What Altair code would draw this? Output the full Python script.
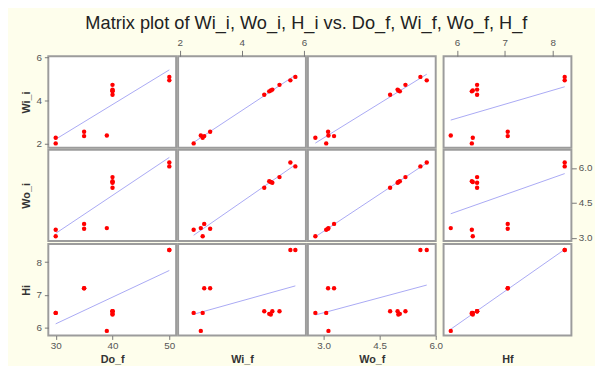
import altair as alt
import pandas as pd

do_f = [30, 30, 35, 35, 39, 40, 40, 40, 40, 40, 50, 50]
wi_f = [2.45, 2.74, 2.79, 2.98, 2.68, 4.72, 5.21, 4.98, 4.88, 4.93, 5.56, 5.72]
wo_f = [3.07, 2.78, 3.28, 3.12, 3.13, 4.78, 5.19, 4.98, 5.04, 5.00, 5.76, 5.59]
hf = [6.31, 6.33, 7.06, 7.06, 5.87, 6.42, 6.42, 6.42, 6.31, 6.33, 8.25, 8.25]
wi_i = [2.00, 2.26, 2.34, 2.54, 2.37, 4.26, 4.72, 4.50, 4.42, 4.46, 4.93, 5.09]
wo_i = [3.35, 3.07, 3.60, 3.39, 3.42, 5.15, 5.61, 5.37, 5.43, 5.40, 6.24, 6.07]
hi = [6.45, 6.45, 7.20, 7.20, 5.90, 6.50, 6.50, 6.50, 6.42, 6.40, 8.37, 8.37]

col_vars = ["Do_f", "Wi_f", "Wo_f", "Hf"]
row_vars = ["Wi_i", "Wo_i", "Hi"]
col_ticks = [[30, 40, 50], [2, 4, 6], [3.0, 4.5, 6.0], [6, 7, 8]]
row_ticks = [[2, 4, 6], [3.0, 4.5, 6.0], [6, 7, 8]]
col_fmt = ["d", "d", ".1f", "d"]
row_fmt = ["d", ".1f", "d"]
col_domain = [[28.7, 51.2], [1.95, 6.06], [2.58, 6.0], [5.72, 8.39]]
row_domain = [[1.80, 6.05], [2.86, 6.79], [5.76, 8.55]]

df = pd.DataFrame({"Do_f": do_f, "Wi_f": wi_f, "Wo_f": wo_f, "Hf": hf,
                   "Wi_i": wi_i, "Wo_i": wo_i, "Hi": hi})

W, H = 130, 93
FONT = "Liberation Sans"
AX = dict(domain=False, grid=False, tickColor="#777777", tickWidth=1,
          labelColor="#555555", labelFontSize=10, labelFont=FONT,
          labelFlush=False, titleFont=FONT, titleFontSize=11, titleFontWeight="bold",
          titleColor="#333333")


def x_axis(r, c):
    if r == 0 and c in (1, 3):
        return alt.Axis(orient="top", values=col_ticks[c], format=col_fmt[c], title=None,
                        tickSize=6, labelPadding=3, **AX)
    if r == 2:
        if c in (0, 2):
            return alt.Axis(orient="bottom", values=col_ticks[c], format=col_fmt[c],
                            title=col_vars[c], titleX=W / 2, titleY=24,
                            titleBaseline="middle", tickSize=4, labelPadding=1, **AX)
        return alt.Axis(orient="bottom", values=col_ticks[c], title=col_vars[c],
                        labels=False, ticks=False, titleX=W / 2, titleY=24,
                        titleBaseline="middle", **AX)
    return None


def y_axis(r, c):
    if c == 0:
        if r in (0, 2):
            return alt.Axis(orient="left", values=row_ticks[r], format=row_fmt[r],
                            title=row_vars[r], titleX=-22, titleY=H / 2,
                            titleBaseline="middle", tickSize=4, labelPadding=3, **AX)
        return alt.Axis(orient="left", values=row_ticks[r], title=row_vars[r],
                        labels=False, ticks=False, titleX=-22, titleY=H / 2,
                        titleBaseline="middle", **AX)
    if c == 3 and r == 1:
        return alt.Axis(orient="right", values=row_ticks[r], format=row_fmt[r], title=None,
                        tickSize=5, labelPadding=2, **AX)
    return None


panels = []
for r, rv in enumerate(row_vars):
    for c, cv in enumerate(col_vars):
        xe = alt.X(cv, type="quantitative",
                   scale=alt.Scale(domain=col_domain[c], nice=False, zero=False),
                   axis=x_axis(r, c))
        ye = alt.Y(rv, type="quantitative",
                   scale=alt.Scale(domain=row_domain[r], nice=False, zero=False),
                   axis=y_axis(r, c))
        line = alt.Chart(df).transform_regression(cv, rv).mark_line(
            color="#A8A8F4", strokeWidth=1, clip=True).encode(x=xe, y=ye)
        pts = alt.Chart(df).mark_circle(color="#FF0000", size=20, opacity=1,
                                         clip=True).encode(x=xe, y=ye)
        panels.append(alt.layer(line, pts).properties(width=W, height=H))

chart = alt.concat(
    *panels, columns=4, spacing=-2, align="each", bounds="full",
    title=alt.TitleParams("Matrix plot of Wi_i, Wo_i, H_i vs. Do_f, Wi_f, Wo_f, H_f",
                          fontSize=18.5, fontWeight="normal", font=FONT, color="#222222",
                          anchor="middle", offset=4),
    background="#FEFEEC",
    padding={"left": 12, "top": 3, "right": 2, "bottom": 1},
).configure_view(stroke="#9C9C9C", strokeWidth=2, fill="white")

chart.save("out.html", embed_options={"renderer": "svg", "actions": False})
